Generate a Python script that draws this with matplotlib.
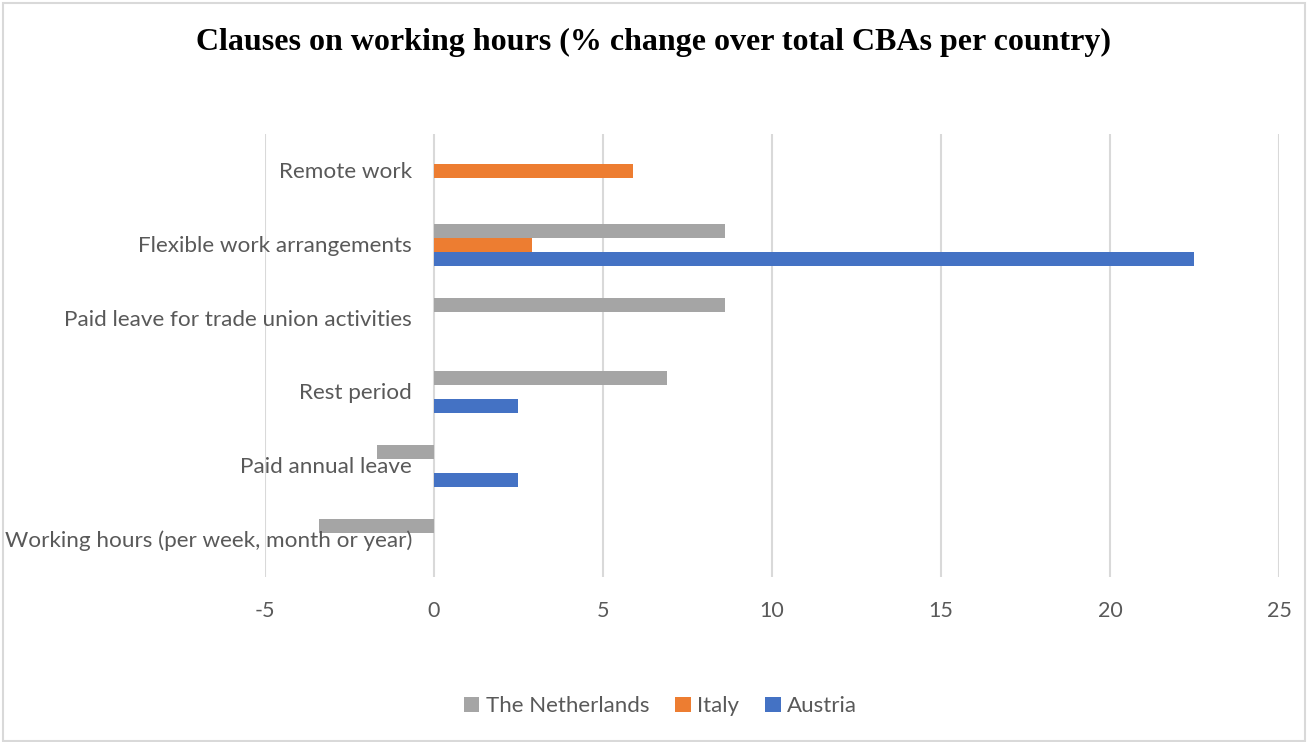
import matplotlib.pyplot as plt
import matplotlib.transforms as mtransforms
from matplotlib.patches import Rectangle
import numpy as np

# categories from bottom to top
categories = ["Working hours (per week, month or year)", "Paid annual leave", "Rest period",
              "Paid leave for trade union activities", "Flexible work arrangements", "Remote work"]
netherlands = [-3.4, -1.7, 6.9, 8.6, 8.6, 0]
italy = [0, 0, 0, 0, 2.9, 5.9]
austria = [0, 2.5, 2.5, 0, 22.5, 0]
xticks = [-5, 0, 5, 10, 15, 20, 25]

text_col = "#595959"
lab_font = "Lato"

fig = plt.figure(figsize=(13.08, 7.42), dpi=100)
ax = fig.add_axes([0.2026, 0.2224, 0.7752, 0.597])

y = np.arange(len(categories))
h = 0.19
ax.barh(y + h, netherlands, height=h, color="#A5A5A5", label="The Netherlands")
ax.barh(y, italy, height=h, color="#ED7D31", label="Italy")
ax.barh(y - h, austria, height=h, color="#4472C4", label="Austria")

ax.set_xlim(-5, 25)
ax.set_ylim(-0.5, len(categories) - 0.5)
ax.set_xticks(xticks)
ax.set_xticklabels([str(t) for t in xticks], fontsize=15.5, color=text_col, family=lab_font)
ax.tick_params(axis="x", length=0, pad=17)
ax.set_yticks([])
ax.grid(axis="x", color="#D9D9D9", linewidth=1.5)
ax.set_axisbelow(True)
for s in ax.spines.values():
    s.set_visible(False)

# category labels sit next to the zero line
offset = mtransforms.ScaledTranslation(-22 / 100, -1 / 100, fig.dpi_scale_trans)
for yi, name in zip(y, categories):
    ax.text(0, yi, name, ha="right", va="center", fontsize=16.2, color=text_col,
            family=lab_font, transform=ax.transData + offset)

fig.text(0.5, 0.943, "Clauses on working hours (% change over total CBAs per country)",
         ha="center", va="center", fontsize=23, fontweight="bold", family="Liberation Serif")

fig.legend(loc="center", bbox_to_anchor=(0.505, 0.048), ncol=3, frameon=False,
           handlelength=0.7, handleheight=0.7, handletextpad=0.3,
           columnspacing=1.15, prop={"family": lab_font, "size": 16}, labelcolor=text_col)

fig.patches.append(Rectangle((0.002, 0.002), 0.996, 0.994, transform=fig.transFigure,
                             fill=False, edgecolor="#D9D9D9", linewidth=1.5))

fig.savefig("out.png", dpi=100)
